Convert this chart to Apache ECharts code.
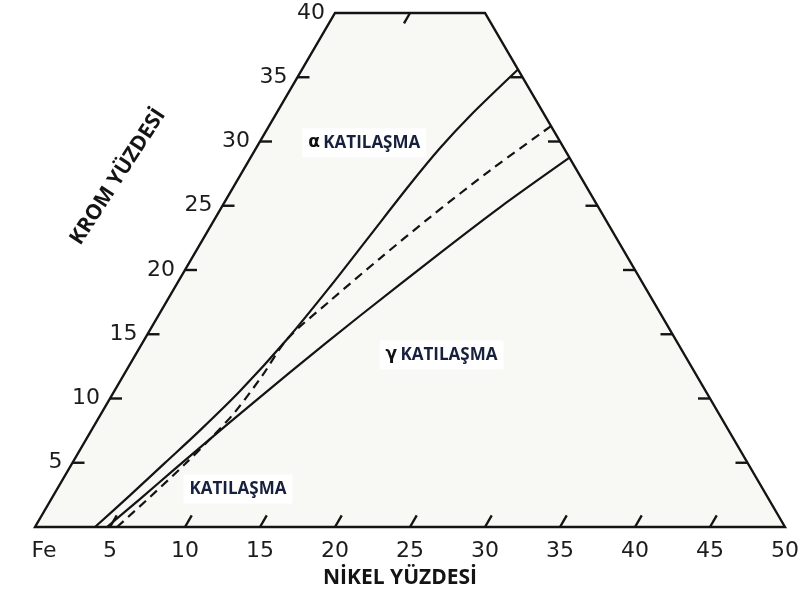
<!DOCTYPE html>
<html>
<head>
<meta charset="utf-8">
<script src="https://cdn.jsdelivr.net/npm/echarts@6/dist/echarts.min.js"></script>
<style>
  html, body { margin: 0; padding: 0; background: #ffffff; }
  #chart { width: 803px; height: 597px; }
</style>
</head>
<body>
<div id="chart"></div>
<script>
// Fe–Cr–Ni ternary section (iron corner). Compositions are [Ni %, Cr %]; Fe is the balance.
const niLabelValues = [0, 5, 10, 15, 20, 25, 30, 35, 40, 45, 50];
const niTickLabels  = ['Fe', '5', '10', '15', '20', '25', '30', '35', '40', '45', '50'];
const niTickValues  = [5, 10, 15, 20, 25, 30, 35, 40, 45];
const crLabelValues = [5, 10, 15, 20, 25, 30, 35, 40];
const crTickLabels  = ['5', '10', '15', '20', '25', '30', '35', '40'];
const crTickValues  = [5, 10, 15, 20, 25, 30, 35];
const feEdgeTickValues = [5, 10, 15, 20, 25, 30, 35];   // Cr values on the 50 % Fe edge
const topTickValues = [5];                              // Ni values on the 40 % Cr edge
const outline = [[0, 0], [50, 0], [10, 40], [0, 40]];

// Solidification boundaries [Ni %, Cr %]
const alphaBoundary = [
  [4.0, 0], [5.10, 2.46], [6.17, 4.99], [7.24, 7.52], [8.38, 10.58], [9.50, 14.61],
  [10.32, 18.7], [10.99, 22.68], [11.67, 26.67], [12.26, 29.49], [13.0, 31.99], [14.4, 35.6]
];
const midBoundary = [
  [5.47, 0], [6.50, 2.33], [7.55, 4.90], [8.30, 7.00], [8.86, 8.95], [9.26, 11.75],
  [9.50, 14.61], [10.87, 17.6], [12.55, 20.91], [14.28, 24.1], [16.46, 27.74], [18.8, 31.2]
];
const gammaBoundary = [
  [4.8, 0], [5.91, 2.17], [7.07, 4.52], [8.75, 7.83], [10.98, 12.03], [13.45, 16.44],
  [16.34, 21.32], [18.56, 24.88], [21.26, 28.74]
];

// ternary [Ni, Cr] -> cartesian plot units (equilateral geometry)
const H = Math.sqrt(3) / 2;
function tern(p) { return [p[0] + p[1] / 2, p[1] * H]; }

const INK = '#141414';
const NAVY = '#17203d';
const NUM_FONT = 'DejaVu Sans';
const TXT_FONT = 'Open Sans';

// tick segments, each as [x1, y1, x2, y2] in plot units
const tickSegments = [];
niTickValues.forEach(n => { tickSegments.push(tern([n, 0]).concat(tern([n, 0.9]))); });
crTickValues.forEach(c => { tickSegments.push(tern([0, c]).concat(tern([0.8, c]))); });
feEdgeTickValues.forEach(c => { tickSegments.push(tern([50 - c, c]).concat(tern([50 - c - 0.8, c]))); });
topTickValues.forEach(n => { tickSegments.push(tern([n, 40]).concat(tern([n, 39.2]))); });

const chart = echarts.init(document.getElementById('chart'), null, { renderer: 'canvas' });

const boundaryLine = (name, data, dash) => ({
  type: 'line', name: name, z: 3, showSymbol: false,
  smooth: 0.3,
  data: data.map(tern),
  lineStyle: { color: INK, width: 2.2, type: dash || 'solid' }
});

const option = {
  backgroundColor: '#ffffff',
  animation: false,
  grid: { left: 35, right: 18, top: 13, bottom: 70 },
  xAxis: { type: 'value', min: 0, max: 50, show: false },
  yAxis: { type: 'value', min: 0, max: 40 * H, show: false },
  graphic: [
    {
      type: 'text', x: 118, y: 177, rotation: 57 * Math.PI / 180,
      style: { text: 'KROM YÜZDESİ', fill: INK, font: 'bold 21px "Open Sans"', align: 'center', verticalAlign: 'middle' }
    },
    {
      type: 'text', x: 400, y: 578,
      style: { text: 'NİKEL YÜZDESİ', fill: INK, font: 'bold 21px "Open Sans"', align: 'center', verticalAlign: 'middle' }
    }
  ],
  series: [
    {
      type: 'custom', name: 'outline', silent: true, z: 1,
      data: [0],
      renderItem: function (params, api) {
        return {
          type: 'polygon',
          shape: { points: outline.map(p => api.coord(tern(p))) },
          style: { fill: '#f8f8f5', stroke: INK, lineWidth: 2.4, lineJoin: 'miter' }
        };
      }
    },
    {
      type: 'custom', name: 'ticks', silent: true, z: 2,
      data: tickSegments,
      encode: { x: [0, 2], y: [1, 3] },
      renderItem: function (params, api) {
        const a = api.coord([api.value(0), api.value(1)]);
        const b = api.coord([api.value(2), api.value(3)]);
        return {
          type: 'line',
          shape: { x1: a[0], y1: a[1], x2: b[0], y2: b[1] },
          style: { stroke: INK, lineWidth: 2.4 }
        };
      }
    },
    boundaryLine('alpha', alphaBoundary),
    boundaryLine('mid', midBoundary, [9, 6]),
    boundaryLine('gamma', gammaBoundary),
    {
      type: 'scatter', name: 'niLabels', symbolSize: 0, silent: true, z: 4,
      itemStyle: { opacity: 1 },
      data: niLabelValues.map((n, i) => ({ value: tern([n, 0]), name: niTickLabels[i] })),
      label: {
        show: true, position: 'bottom', distance: 13,
        formatter: p => p.name,
        fontFamily: NUM_FONT, fontSize: 22, color: '#1c1c1c'
      },
      labelLayout: function (params) {
        return params.dataIndex === 0 ? { dx: 9 } : {};
      }
    },
    {
      type: 'scatter', name: 'crLabels', symbolSize: 0, silent: true, z: 4,
      itemStyle: { opacity: 1 },
      data: crLabelValues.map((c, i) => ({ value: tern([0, c]), name: crTickLabels[i] })),
      label: {
        show: true, position: 'left', distance: 10,
        formatter: p => p.name,
        fontFamily: NUM_FONT, fontSize: 22, color: '#1c1c1c'
      }
    },
    {
      type: 'scatter', name: 'regions', symbolSize: 0, silent: true, z: 5,
      itemStyle: { opacity: 1 },
      data: [
        { value: tern([7.0, 29.9]), name: '{g|α} {t|KATILAŞMA}' },
        { value: tern([20.4, 13.4]), name: '{g|γ} {t|KATILAŞMA}' },
        { value: tern([12.05, 2.96]), name: '{t|KATILAŞMA}' }
      ],
      label: {
        show: true, position: 'inside', align: 'center', verticalAlign: 'middle',
        formatter: p => p.name,
        backgroundColor: '#ffffff', padding: [6, 6],
        rich: {
          g: { fontFamily: NUM_FONT, fontWeight: 'bold', fontSize: 17, color: '#111' },
          t: { fontFamily: TXT_FONT, fontWeight: 'bold', fontSize: 17, color: NAVY }
        }
      }
    }
  ]
};

chart.setOption(option);
</script>
</body>
</html>
